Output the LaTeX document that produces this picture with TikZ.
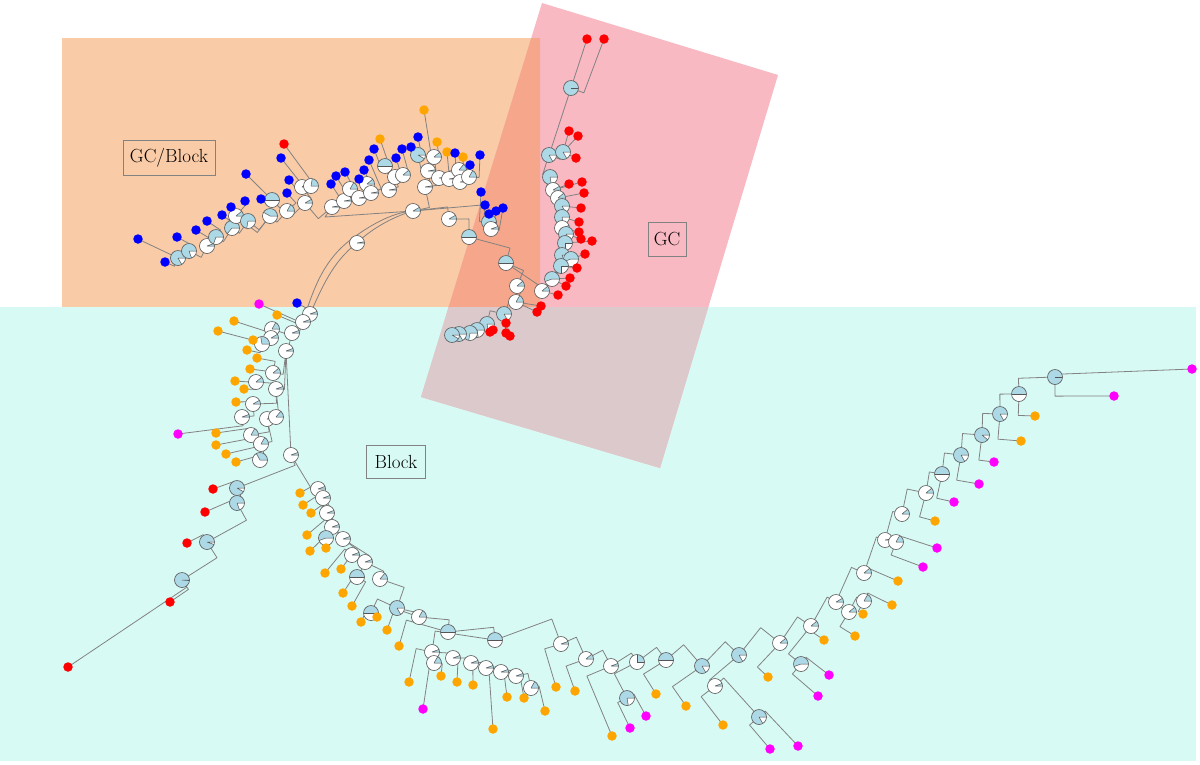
\documentclass[tikz,border=0pt]{standalone}
\usetikzlibrary{calc}
\definecolor{cyanbg}{RGB}{216,250,244}
\definecolor{orangebg}{RGB}{250,203,167}
\definecolor{pinkbg}{RGB}{248,185,195}
\definecolor{ovo}{RGB}{246,167,139}
\definecolor{ovc}{RGB}{220,201,203}
\definecolor{edgegray}{RGB}{130,130,130}
\definecolor{pieedge}{RGB}{85,85,85}
\definecolor{pieblue}{RGB}{173,216,230}
\definecolor{lblgray}{RGB}{130,130,130}
\definecolor{lfblue}{RGB}{0,0,255}
\definecolor{lfred}{RGB}{255,0,0}
\definecolor{lforange}{RGB}{255,165,0}
\definecolor{lfmag}{RGB}{255,0,255}
\pgfdeclarelayer{back}
\pgfdeclarelayer{edges}
\pgfsetlayers{back,edges,main}
\tikzset{
  tedge/.style={draw=edgegray,line width=0.8pt,line join=round},
  pie/.style={circle,draw=pieedge,fill=white,line width=0.6pt,minimum size=15pt,inner sep=0pt,
    path picture={\fill[pieblue] (path picture bounding box.center) -- ++(0:8pt) arc[start angle=0,end angle=#1,radius=8pt] -- cycle;
      \draw[pieedge,line width=0.5pt] (path picture bounding box.center) -- ++(0:7.5pt) (path picture bounding box.center) -- ++(#1:7.5pt);}},
  leaf/.style={circle,fill=#1,minimum size=9.5pt,inner sep=0pt},
  lbl/.style={draw=lblgray,line width=0.7pt,inner sep=0pt,font=\fontsize{19}{22}\selectfont}
}
\newcommand\Pie[4]{\node[pie=#4] (#1) at (#2,#3) {};}
\newcommand\Lf[4]{\node[leaf=#4] (#1) at (#2,#3) {};}
\newcommand\edg[2]{\draw[tedge] (#1.center) -- ($(ctr)!(#1.center)!(#2.center)$) -- (#2.center);}
\newcommand\edgs[2]{\draw[tedge] (#1.center) -- (#2.center);}
\newcommand\kids[2]{\foreach \kk in {#2}{\edg{#1}{\kk}}}
\newcommand\kidss[2]{\foreach \kk in {#2}{\edgs{#1}{\kk}}}
\begin{document}
\begin{tikzpicture}[x=1pt,y=-1pt]
\useasboundingbox (0,0) rectangle (1200,764);
\begin{pgfonlayer}{back}
\fill[white] (0,0) rectangle (1200,764);
\fill[cyanbg] (0,307) rectangle (1196,761);
\fill[orangebg] (62,38) rectangle (540,307);
\fill[pinkbg] (542,3) -- (778,75) -- (660,468) -- (421,397) -- cycle;
\begin{scope}
\clip (62,38) rectangle (540,307);
\fill[ovo] (542,3) -- (778,75) -- (660,468) -- (421,397) -- cycle;
\end{scope}
\begin{scope}
\clip (0,307) rectangle (1196,761);
\fill[ovc] (542,3) -- (778,75) -- (660,468) -- (421,397) -- cycle;
\end{scope}
\end{pgfonlayer}
\coordinate (ctr) at (470,397);
% labels
\node[lbl,minimum width=92pt,minimum height=35pt] (lgcb) at (169,158) {GC/Block};
\node[lbl,minimum width=38pt,minimum height=34pt] (lgc) at (667,239) {GC};
\node[lbl,minimum width=59pt,minimum height=33pt] (lblk) at (396,462) {Block};
% ---- top-left pies
\Pie{a1}{178}{258}{300}
\Pie{a2}{189}{251}{290}
\Pie{a3}{207}{246}{20}
\Pie{a4}{216}{237}{250}
\Pie{a5}{232}{228}{230}
\Pie{a6}{236}{216}{40}
\Pie{a7}{248}{221}{260}
\Pie{a8}{270}{216}{150}
\Pie{a9}{272}{200}{180}
\Pie{a10}{287}{211}{60}
\Pie{a11}{305}{203}{30}
\Pie{a12}{302}{187}{40}
\Pie{a13}{311}{186}{80}
\Pie{a14}{332}{207}{10}
\Pie{a15}{344}{201}{10}
\Pie{a16}{350}{189}{60}
\Pie{a17}{359}{198}{10}
\Pie{a18}{367}{184}{40}
\Pie{a19}{371}{193}{10}
\Pie{a20}{385}{166}{180}
\Pie{a21}{389}{190}{10}
\Pie{a22}{395}{177}{30}
\Pie{a23}{403}{175}{40}
\Pie{a24}{418}{155}{330}
\Pie{a25}{428}{171}{10}
\Pie{a26}{434}{157}{40}
\Pie{a27}{439}{178}{10}
\Pie{a28}{449}{179}{10}
\Pie{a29}{459}{170}{50}
\Pie{a30}{460}{182}{10}
\Pie{a31}{469}{177}{60}
\Pie{a32}{425}{187}{10}
\Pie{a33}{413}{211}{30}
\Pie{a34}{449}{219}{30}
\Pie{a35}{469}{237}{180}
\Pie{a36}{489}{222}{270}
\Pie{a37}{491}{229}{20}
\Pie{r0}{357}{243}{10}
% ---- GC pies
\Pie{a38}{506}{263}{180}
\Pie{a39}{517}{286}{40}
\Pie{a42}{516}{302}{60}
\Pie{a43}{504}{314}{300}
\Pie{a44}{487}{324}{280}
\Pie{a45}{477}{330}{280}
\Pie{a46}{470}{333}{260}
\Pie{a47}{459}{334}{300}
\Pie{a48}{452}{335}{330}
\Pie{g1}{571}{88}{360}
\Pie{g2}{549}{155}{300}
\Pie{g3}{563}{152}{300}
\Pie{g4}{550}{177}{280}
\Pie{g5}{553}{190}{30}
\Pie{g6}{558}{198}{40}
\Pie{g7}{562}{206}{300}
\Pie{g8}{562}{217}{280}
\Pie{g9}{562}{228}{20}
\Pie{g10}{566}{234}{300}
\Pie{g11}{565}{243}{270}
\Pie{g12}{562}{255}{290}
\Pie{g13}{571}{259}{200}
\Pie{g14}{561}{266}{270}
\Pie{a41}{552}{279}{200}
\Pie{a40}{542}{291}{40}
% ---- left pies
\Pie{c1}{310}{314}{20}
\Pie{c2}{303}{322}{20}
\Pie{c3}{292}{333}{20}
\Pie{c4}{272}{329}{60}
\Pie{c5}{271}{338}{30}
\Pie{c6}{262}{344}{100}
\Pie{c7}{286}{351}{20}
\Pie{c8}{273}{373}{40}
\Pie{c9}{256}{382}{40}
\Pie{c10}{276}{389}{20}
\Pie{c11}{253}{404}{30}
\Pie{c12}{242}{417}{20}
\Pie{c13}{267}{419}{20}
\Pie{c14}{276}{417}{50}
\Pie{c15}{251}{435}{60}
\Pie{c16}{261}{444}{60}
\Pie{c17}{260}{460}{120}
\Pie{c18}{291}{455}{20}
\Pie{d1}{237}{488}{330}
\Pie{d2}{237}{503}{290}
\Pie{d3}{207}{542}{340}
\Pie{d4}{182}{580}{355}
% ---- bottom pies
\Pie{e1}{318}{489}{20}
\Pie{e2}{323}{498}{20}
\Pie{e3}{327}{513}{20}
\Pie{e4}{332}{527}{20}
\Pie{e5}{326}{538}{200}
\Pie{e6}{343}{539}{20}
\Pie{e7}{352}{555}{20}
\Pie{e8}{365}{562}{20}
\Pie{e9}{357}{577}{180}
\Pie{e10}{380}{579}{50}
\Pie{e11}{397}{608}{300}
\Pie{e12}{371}{613}{180}
\Pie{e13}{419}{617}{60}
\Pie{e14}{448}{632}{180}
\Pie{e15}{495}{640}{180}
\Pie{e16}{561}{644}{20}
\Pie{e17}{432}{652}{20}
\Pie{e18}{434}{663}{60}
\Pie{e19}{453}{658}{20}
\Pie{e20}{471}{663}{20}
\Pie{e21}{486}{668}{20}
\Pie{e22}{501}{672}{20}
\Pie{e23}{516}{676}{20}
\Pie{e24}{531}{688}{60}
\Pie{f1}{586}{659}{40}
\Pie{f2}{611}{666}{20}
\Pie{f3}{637}{662}{90}
\Pie{f4}{666}{660}{180}
\Pie{f5}{702}{666}{300}
\Pie{f6}{739}{655}{300}
\Pie{f7}{780}{643}{40}
\Pie{f8}{811}{626}{40}
\Pie{f9}{836}{602}{30}
\Pie{f10}{627}{698}{280}
\Pie{f11}{715}{686}{20}
\Pie{f12}{759}{717}{300}
\Pie{f13}{801}{664}{200}
\Pie{f14}{849}{612}{40}
\Pie{f15}{864}{601}{60}
\Pie{f16}{864}{573}{40}
\Pie{f17}{885}{540}{10}
\Pie{f18}{896}{542}{60}
\Pie{f19}{902}{514}{40}
\Pie{f20}{926}{493}{40}
\Pie{f21}{942}{474}{180}
\Pie{f22}{961}{455}{300}
\Pie{f23}{982}{435}{320}
\Pie{f24}{1000}{414}{300}
\Pie{f25}{1019}{394}{180}
\Pie{f26}{1055}{377}{360}
% ---- leaves top
\Lf{b1}{138}{239}{lfblue}
\Lf{b2}{165}{262}{lfblue}
\Lf{b3}{177}{237}{lfblue}
\Lf{b4}{196}{230}{lfblue}
\Lf{b5}{207}{221}{lfblue}
\Lf{b6}{222}{215}{lfblue}
\Lf{b7}{231}{207}{lfblue}
\Lf{b8}{245}{201}{lfblue}
\Lf{b9}{246}{174}{lfblue}
\Lf{b10}{261}{199}{lfblue}
\Lf{b11}{287}{193}{lfblue}
\Lf{b12}{289}{180}{lfblue}
\Lf{b13}{281}{158}{lfblue}
\Lf{b14}{284}{144}{lfred}
\Lf{b15}{331}{184}{lfblue}
\Lf{b16}{336}{176}{lfblue}
\Lf{b17}{345}{172}{lfblue}
\Lf{b18}{359}{179}{lfblue}
\Lf{b19}{364}{170}{lfblue}
\Lf{b20}{369}{160}{lfblue}
\Lf{b21}{374}{149}{lfblue}
\Lf{b22}{380}{139}{lforange}
\Lf{b23}{396}{158}{lfblue}
\Lf{b24}{402}{149}{lfblue}
\Lf{b25}{411}{147}{lfblue}
\Lf{b26}{418}{137}{lfblue}
\Lf{b27}{424}{110}{lforange}
\Lf{b28}{437}{142}{lforange}
\Lf{b29}{447}{152}{lforange}
\Lf{b30}{455}{153}{lfblue}
\Lf{b31}{463}{157}{lforange}
\Lf{b32}{470}{165}{lfblue}
\Lf{b33}{480}{155}{lfblue}
\Lf{b34}{481}{192}{lfblue}
\Lf{b35}{485}{205}{lfblue}
\Lf{b36}{496}{211}{lfblue}
\Lf{b37}{503}{208}{lfblue}
\Lf{b38}{489}{214}{lfblue}
% ---- leaves GC
\Lf{r1}{587}{39}{lfred}
\Lf{r2}{604}{39}{lfred}
\Lf{r3}{569}{131}{lfred}
\Lf{r4}{578}{136}{lfred}
\Lf{r5}{576}{158}{lfred}
\Lf{r6}{569}{184}{lfred}
\Lf{r7}{582}{182}{lfred}
\Lf{r8}{584}{193}{lfred}
\Lf{r9}{581}{208}{lfred}
\Lf{r10}{579}{222}{lfred}
\Lf{r11}{579}{232}{lfred}
\Lf{r12}{581}{239}{lfred}
\Lf{r13}{592}{241}{lfred}
\Lf{r14}{585}{254}{lfred}
\Lf{r15}{577}{268}{lfred}
\Lf{r16}{570}{278}{lfred}
\Lf{r17}{566}{286}{lfred}
\Lf{r18}{558}{295}{lfred}
\Lf{r19}{541}{306}{lfred}
\Lf{r20}{537}{312}{lfred}
\Lf{r21}{506}{323}{lfred}
\Lf{r22}{506}{333}{lfred}
\Lf{r23}{510}{336}{lfred}
\Lf{r24}{493}{330}{lfred}
\Lf{r25}{490}{332}{lfred}
% ---- leaves left
\Lf{l1}{259}{304}{lfmag}
\Lf{l2}{297}{303}{lfblue}
\Lf{l3}{277}{315}{lforange}
\Lf{l4}{234}{321}{lforange}
\Lf{l5}{218}{331}{lforange}
\Lf{l6}{253}{340}{lforange}
\Lf{l7}{247}{350}{lforange}
\Lf{l8}{257}{358}{lforange}
\Lf{l9}{250}{369}{lforange}
\Lf{l10}{235}{381}{lforange}
\Lf{l11}{244}{389}{lforange}
\Lf{l12}{236}{402}{lforange}
\Lf{l13}{178}{434}{lfmag}
\Lf{l14}{216}{433}{lforange}
\Lf{l15}{216}{445}{lforange}
\Lf{l16}{226}{454}{lforange}
\Lf{l17}{236}{462}{lforange}
\Lf{r26}{213}{489}{lfred}
\Lf{r27}{205}{512}{lfred}
\Lf{r28}{187}{543}{lfred}
\Lf{r29}{170}{602}{lfred}
\Lf{r30}{68}{667}{lfred}
% ---- leaves bottom
\Lf{o1}{300}{493}{lforange}
\Lf{o2}{303}{505}{lforange}
\Lf{o3}{311}{513}{lforange}
\Lf{o4}{307}{535}{lforange}
\Lf{o5}{310}{551}{lforange}
\Lf{o6}{326}{548}{lforange}
\Lf{o7}{325}{573}{lforange}
\Lf{o8}{341}{569}{lforange}
\Lf{o9}{343}{593}{lforange}
\Lf{o10}{352}{606}{lforange}
\Lf{o11}{361}{622}{lforange}
\Lf{o12}{377}{617}{lforange}
\Lf{o13}{387}{630}{lforange}
\Lf{o14}{399}{646}{lforange}
\Lf{o15}{409}{682}{lforange}
\Lf{m1}{423}{709}{lfmag}
\Lf{o16}{441}{676}{lforange}
\Lf{o17}{457}{682}{lforange}
\Lf{o18}{473}{685}{lforange}
\Lf{o19}{493}{729}{lforange}
\Lf{o20}{507}{697}{lforange}
\Lf{o21}{524}{698}{lforange}
\Lf{o22}{545}{711}{lforange}
\Lf{o23}{556}{687}{lforange}
\Lf{o24}{575}{691}{lforange}
\Lf{q2}{612}{736}{lforange}
\Lf{q3}{630}{728}{lfmag}
\Lf{q4}{646}{716}{lfmag}
\Lf{q5}{656}{694}{lforange}
\Lf{q6}{686}{706}{lforange}
\Lf{q7}{723}{725}{lforange}
\Lf{q8}{770}{749}{lfmag}
\Lf{q9}{798}{746}{lfmag}
\Lf{q10}{768}{677}{lforange}
\Lf{q11}{818}{696}{lfmag}
\Lf{q12}{829}{675}{lfmag}
\Lf{q13}{824}{640}{lforange}
\Lf{q14}{855}{636}{lforange}
\Lf{q15}{863}{614}{lforange}
\Lf{q16}{892}{605}{lforange}
\Lf{q17}{898}{581}{lforange}
\Lf{q18}{923}{567}{lfmag}
\Lf{q19}{937}{548}{lfmag}
\Lf{q20}{935}{521}{lforange}
\Lf{q21}{954}{502}{lfmag}
\Lf{q22}{979}{484}{lfmag}
\Lf{q23}{994}{462}{lfmag}
\Lf{q24}{1021}{441}{lforange}
\Lf{q25}{1035}{416}{lforange}
\Lf{q26}{1114}{396}{lfmag}
\Lf{q27}{1192}{369}{lfmag}
% ================= edges
\begin{pgfonlayer}{edges}
% backbone
\draw[tedge] (c1.center) .. controls (321,290) and (332,262) .. (r0.center) .. controls (372,228) and (395,216) .. (a33.center);
\draw[tedge] (c2.center) .. controls (314,286) and (325,258) .. (353,238) .. controls (373,223) and (395,212) .. (a33.center);
\draw[tedge] (a33.center) -- (325,217) -- (a14.center);
\draw[tedge] (a33.center) -- (482,205) -- (a36.center);
\kidss{c7}{c18}
% top-left
\kids{a1}{b1,b2}
\kids{a2}{a1,b3}
\kids{a3}{a2,b4}
\kids{a4}{a3,b5}
\kids{a5}{a4,b6}
\kids{a7}{a5,b7}
\kids{a6}{b8}
\kids{a8}{a7,a6}
\kids{a9}{b9,b10}
\kids{a10}{a9,a8,b11}
\kids{a13}{b13,b14}
\kids{a12}{a13,b12}
\kids{a11}{a12,a10}
\kids{a16}{b16,b17}
\kids{a18}{b18,b19}
\kids{a20}{b21,b22}
\kids{a23}{b24}
\kids{a22}{a23,b23}
\kids{a21}{a22,a20}
\kids{a19}{a21,b20}
\kids{a17}{a19,a18}
\kids{a15}{a17,a16}
\kids{a14}{a15,a11,b15}
\kids{a24}{b26,b25}
\kids{a26}{b27,b28}
\kids{a25}{a24,a26}
\kids{a31}{b32,b33}
\kids{a30}{a31,b31}
\kids{a29}{b29,b30}
\kids{a28}{a29,a30}
\kids{a27}{a28}
\kids{a32}{a25,a27}
\kids{a33}{a32,a34}
\kids{a37}{b36,b37}
\kids{a36}{a37,b34,b35,b38}
\kids{a34}{a35}
\kids{a35}{a38}
% GC
\kids{a38}{a39,a40}
\kids{a39}{a42}
\kidss{a42}{r19,r20}
\kids{a42}{a43}
\kidss{a43}{r21,r22,r23}
\kids{a43}{a44}
\kidss{a44}{r24,r25}
\kids{a44}{a45}
\kids{a45}{a46}
\kids{a46}{a47}
\kids{a47}{a48}
\kids{a40}{a41}
\kidss{a40}{r18}
\kids{a41}{g14}
\kidss{a41}{r17,r16}
\kids{g14}{g12}
\kidss{g14}{r15}
\kids{g12}{g13,g11}
\kidss{g13}{r14}
\kids{g11}{g10}
\kidss{g11}{r13}
\kids{g10}{g9}
\kidss{g10}{r12}
\kids{g9}{g8}
\kidss{g9}{r11}
\kids{g8}{g7}
\kidss{g8}{r10}
\kids{g7}{g6}
\kidss{g7}{r9}
\kids{g6}{g5}
\kidss{g6}{r8}
\kids{g5}{g4}
\kidss{g5}{r7,r6}
\kids{g4}{g2}
\kids{g2}{g3,g1}
\kidss{g3}{r3,r4,r5}
\kids{g1}{r1,r2}
% left
\kids{c1}{l1,l2,c2}
\kids{c2}{l3,c3}
\kids{c3}{c4,c7}
\kids{c4}{l4,c5}
\kids{c5}{l5,c6}
\kids{c6}{l6,l7}
\kids{c7}{c8,c10}
\kids{c8}{l8,l9}
\kids{c10}{c9,c11,c14}
\kids{c9}{l10,l11}
\kids{c11}{l12,c12}
\kids{c12}{l13}
\kids{c14}{c13}
\kids{c13}{c15,c16}
\kids{c15}{l14,l15}
\kids{c16}{l16,c17}
\kids{c17}{l17}
\kids{c18}{d1,e1}
\kids{d1}{r26,d2}
\kids{d2}{r27,d3}
\kids{d3}{r28,d4}
\kids{d4}{r29,r30}
% bottom
\kids{e1}{o1,e2}
\kids{e2}{o2,e3}
\kids{e3}{o3,e4}
\kids{e4}{o4,e5,e6}
\kids{e5}{o5,o6}
\kids{e6}{e7,e8}
\kids{e7}{o7,o8}
\kids{e8}{e9,e10}
\kids{e9}{o9,o10}
\kids{e10}{e11}
\kids{e11}{e12,e13}
\kids{e12}{o11,o12}
\kids{e13}{o13,e14}
\kids{e14}{o14,e15}
\kids{e15}{e17,e16}
\kids{e17}{o15,e18,e19}
\kids{e18}{m1,o16}
\kids{e19}{o17,e20}
\kids{e20}{o18,e21}
\kids{e21}{o19,e22}
\kids{e22}{o20,e23}
\kids{e23}{o21,e24}
\kids{e24}{o22}
\kids{e16}{o23,f1}
\kids{f1}{o24,f2}
\kids{f2}{q2,f3}
\kids{f3}{f10,f4}
\kids{f10}{q3,q4}
\kids{f4}{q5,f5}
\kids{f5}{q6,f6}
\kids{f6}{f11,f7}
\kids{f11}{q7,f12}
\kids{f12}{q8,q9}
\kids{f7}{q10,f8}
\kids{f8}{q13,f13,f9}
\kids{f13}{q11,q12}
\kids{f9}{f14,f16}
\kids{f14}{q14,f15}
\kids{f15}{q15,q16}
\kids{f16}{f17,q17}
\kids{f17}{f19,f18}
\kids{f18}{q18,q19}
\kids{f19}{f20}
\kids{f20}{f21,q20}
\kids{f21}{f22,q21}
\kids{f22}{f23,q22}
\kids{f23}{f24,q23}
\kids{f24}{f25,q24}
\kids{f25}{f26,q25}
\kids{f26}{q26,q27}
\end{pgfonlayer}
\end{tikzpicture}
\end{document}
